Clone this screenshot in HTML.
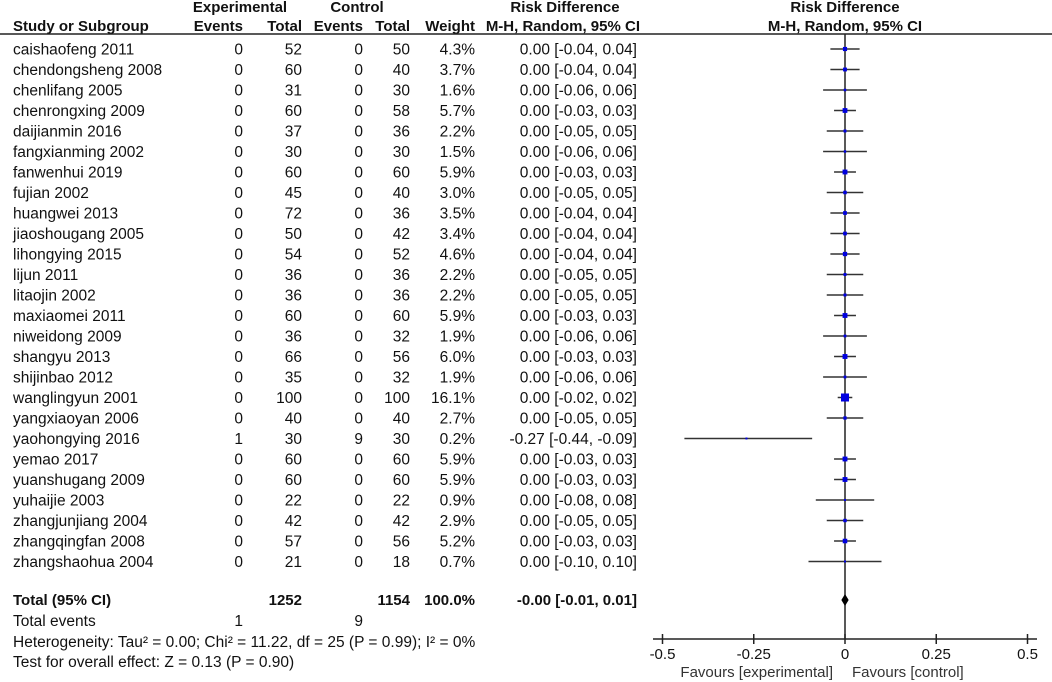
<!DOCTYPE html>
<html><head><meta charset="utf-8">
<style>
body{margin:0;background:#fff;}
svg{display:block;font-family:"Liberation Sans",Arial,sans-serif;}
</style></head>
<body>
<svg id="fp" width="1052" height="682" viewBox="0 0 1052 682" xmlns="http://www.w3.org/2000/svg">
<g font-weight="bold" font-size="15" fill="#111">
<text x="240" y="12" text-anchor="middle">Experimental</text>
<text x="357" y="12" text-anchor="middle">Control</text>
<text x="565" y="12" text-anchor="middle">Risk Difference</text>
<text x="845" y="12" text-anchor="middle">Risk Difference</text>
<text x="13" y="31">Study or Subgroup</text>
<text x="243" y="31" text-anchor="end">Events</text>
<text x="302" y="31" text-anchor="end">Total</text>
<text x="363" y="31" text-anchor="end">Events</text>
<text x="410" y="31" text-anchor="end">Total</text>
<text x="475" y="31" text-anchor="end">Weight</text>
<text x="640" y="31" text-anchor="end">M-H, Random, 95% CI</text>
<text x="845" y="31" text-anchor="middle">M-H, Random, 95% CI</text>
</g>
<line x1="0" y1="34" x2="1052" y2="34" stroke="#222" stroke-width="1.5"/>
<g id="rows" font-size="15.5" fill="#111"></g>
<g id="marks"></g>
<g font-size="15.5" fill="#111">
<text x="13" y="605" font-weight="bold" font-size="15">Total (95% CI)</text>
<text x="302" y="605" text-anchor="end" font-weight="bold" font-size="15">1252</text>
<text x="410" y="605" text-anchor="end" font-weight="bold" font-size="15">1154</text>
<text x="475" y="605" text-anchor="end" font-weight="bold" font-size="15">100.0%</text>
<text x="637" y="605" text-anchor="end" font-weight="bold" font-size="15">-0.00 [-0.01, 0.01]</text>
<text x="13" y="626">Total events</text>
<text x="243" y="626" text-anchor="end">1</text>
<text x="363" y="626" text-anchor="end">9</text>
<text x="13" y="647">Heterogeneity: Tau² = 0.00; Chi² = 11.22, df = 25 (P = 0.99); I² = 0%</text>
<text x="13" y="667">Test for overall effect: Z = 0.13 (P = 0.90)</text>
</g>
<g id="axis" font-size="15" fill="#111"></g>
</svg>
<script>
const studies=["caishaofeng 2011","chendongsheng 2008","chenlifang 2005","chenrongxing 2009","daijianmin 2016","fangxianming 2002","fanwenhui 2019","fujian 2002","huangwei 2013","jiaoshougang 2005","lihongying 2015","lijun 2011","litaojin 2002","maxiaomei 2011","niweidong 2009","shangyu 2013","shijinbao 2012","wanglingyun 2001","yangxiaoyan 2006","yaohongying 2016","yemao 2017","yuanshugang 2009","yuhaijie 2003","zhangjunjiang 2004","zhangqingfan 2008","zhangshaohua 2004"];
const expEvents=[0,0,0,0,0,0,0,0,0,0,0,0,0,0,0,0,0,0,0,1,0,0,0,0,0,0];
const expTotal=[52,60,31,60,37,30,60,45,72,50,54,36,36,60,36,66,35,100,40,30,60,60,22,42,57,21];
const ctlEvents=[0,0,0,0,0,0,0,0,0,0,0,0,0,0,0,0,0,0,0,9,0,0,0,0,0,0];
const ctlTotal=[50,40,30,58,36,30,60,40,36,42,52,36,36,60,32,56,32,100,40,30,60,60,22,42,56,18];
const weights=[4.3,3.7,1.6,5.7,2.2,1.5,5.9,3.0,3.5,3.4,4.6,2.2,2.2,5.9,1.9,6.0,1.9,16.1,2.7,0.2,5.9,5.9,0.9,2.9,5.2,0.7];
const rd=[0,0,0,0,0,0,0,0,0,0,0,0,0,0,0,0,0,0,0,-0.27,0,0,0,0,0,0];
const lo=[-0.04,-0.04,-0.06,-0.03,-0.05,-0.06,-0.03,-0.05,-0.04,-0.04,-0.04,-0.05,-0.05,-0.03,-0.06,-0.03,-0.06,-0.02,-0.05,-0.44,-0.03,-0.03,-0.08,-0.05,-0.03,-0.10];
const hi=[0.04,0.04,0.06,0.03,0.05,0.06,0.03,0.05,0.04,0.04,0.04,0.05,0.05,0.03,0.06,0.03,0.06,0.02,0.05,-0.09,0.03,0.03,0.08,0.05,0.03,0.10];
const totalRd=[-0.00];
const totalLo=[-0.01];
const totalHi=[0.01];
const ticks=[-0.5,-0.25,0,0.25,0.5];
const tickLabels=["-0.5","-0.25","0","0.25","0.5"];

const NS="http://www.w3.org/2000/svg";
const xs=v=>845+v*365;
const ys=i=>49+i*20.5;
function mk(tag,attrs,parent){const e=document.createElementNS(NS,tag);for(const k in attrs)e.setAttribute(k,attrs[k]);parent.appendChild(e);return e;}
const f2=v=>(v<0?"-":"")+Math.abs(v).toFixed(2);
const rows=document.getElementById('rows'),marks=document.getElementById('marks'),axis=document.getElementById('axis');

const zl=mk('line',{x1:xs(0),y1:34,x2:xs(0),y2:639,stroke:'#222','stroke-width':1.5},marks);



studies.forEach((s,i)=>{
  const y=ys(i)+5.5;
  const cols=[[s,13,'start'],[String(expEvents[i]),243,'end'],[String(expTotal[i]),302,'end'],[String(ctlEvents[i]),363,'end'],[String(ctlTotal[i]),410,'end'],[weights[i].toFixed(1)+'%',475,'end'],[f2(rd[i])+' ['+f2(lo[i])+', '+f2(hi[i])+']',637,'end']];
  const names=['study-name','exp-events','exp-total','ctl-events','ctl-total','weight','ci-text'];
  cols.forEach((c,j)=>{
    const t=mk('text',{x:c[1],y:y,'text-anchor':c[2]},rows);
    t.textContent=c[0];
    
    
  });
  const cy=ys(i);
  const l=mk('line',{x1:xs(lo[i]),y1:cy,x2:xs(hi[i]),y2:cy,stroke:'#333','stroke-width':1.5},marks);
  
  
  const sz=Math.max(2,2*Math.sqrt(weights[i]));
  const r=mk('rect',{x:xs(rd[i])-sz/2,y:cy-sz/2,width:sz,height:sz,fill:'#0000e0'},marks);
  
  
});

const dy=600;
const d=mk('polygon',{points:`${xs(totalLo[0])},${dy} ${xs(totalRd[0])},${dy-6} ${xs(totalHi[0])},${dy} ${xs(totalRd[0])},${dy+6}`,fill:'#000'},marks);



const al=mk('line',{x1:653,y1:639,x2:1037,y2:639,stroke:'#222','stroke-width':1.5},axis);


ticks.forEach((v,i)=>{
  const tk=mk('line',{x1:xs(v),y1:634,x2:xs(v),y2:644,stroke:'#222','stroke-width':1.5},axis);
  
  
  const tl=mk('text',{x:xs(v),y:659,'text-anchor':'middle'},axis);
  tl.textContent=tickLabels[i];
  
  
});
const fe=mk('text',{x:833,y:677,'text-anchor':'end',fill:'#333'},axis);
fe.textContent='Favours [experimental]';


const fc=mk('text',{x:852,y:677,'text-anchor':'start',fill:'#333'},axis);
fc.textContent='Favours [control]';


</script>
</body></html>
